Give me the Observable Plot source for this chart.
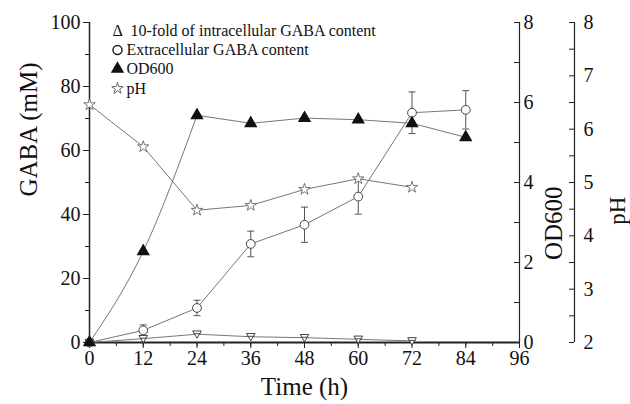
<!DOCTYPE html>
<html>
<head>
<meta charset="utf-8">
<script src="https://cdn.jsdelivr.net/npm/d3@7"></script>
<script src="https://cdn.jsdelivr.net/npm/@observablehq/plot@0.6"></script>
<style>
  html, body { margin: 0; padding: 0; background: #fff; }
  #chart { width: 630px; height: 404px; }
  #chart svg, #chart svg text { font-family: 'Liberation Serif', 'Times New Roman', serif !important; }
</style>
</head>
<body>
<div id="chart"></div>
<script>
// ---- data ----
const hours = [0, 12, 24, 36, 48, 60, 72, 84];
const extGABA = [0, 3.8, 10.8, 30.8, 36.8, 45.6, 71.8, 72.7];
const extErr = [0, 1.7, 2.4, 4.0, 5.5, 5.5, 6.5, 6.0];
const od600 = [0, 2.28, 5.68, 5.48, 5.61, 5.57, 5.48, 5.13];
const intraHours = [0, 12, 24, 36, 48, 60, 72];
const intraGABA10 = [0, 1.2, 2.6, 1.8, 1.5, 1.0, 0.5];
const intraErr = [0, 0.6, 0.8, 0.7, 0.7, 0.6, 0.6];
const pHHours = [0, 12, 24, 36, 48, 60, 72];
const pHValues = [6.46, 5.67, 4.48, 4.57, 4.87, 5.07, 4.91];

const xTicks = [0, 12, 24, 36, 48, 60, 72, 84, 96];
const gabaTicks = [0, 20, 40, 60, 80, 100];
const odTicks = [0, 2, 4, 6, 8];
const pHTicks = [2, 3, 4, 5, 6, 7, 8];
const legendLabels = ["10-fold of intracellular GABA content", "Extracellular GABA content", "OD600", "pH"];

// ---- dual-axis mapping onto the GABA (mM) scale ----
const odToY = v => v * 100 / 8;
const pHToY = v => (v - 2) * 100 / 6;

const ext = hours.map((h, i) => ({h, y: extGABA[i], lo: extGABA[i] - extErr[i], hi: extGABA[i] + extErr[i]}));
const intra = intraHours.map((h, i) => ({h, y: intraGABA10[i], lo: intraGABA10[i] - intraErr[i], hi: intraGABA10[i] + intraErr[i]}));
const od = hours.map((h, i) => ({h, y: odToY(od600[i])}));
const ph = pHHours.map((h, i) => ({h, y: pHToY(pHValues[i])}));

const cap = {draw(ctx, size) { const w = Math.sqrt(size / Math.PI); ctx.moveTo(-w, 0); ctx.lineTo(w, 0); }};
const downTri = {draw(ctx, size) {
  const r = Math.sqrt(size / Math.PI);
  ctx.moveTo(-r, -r * 0.75); ctx.lineTo(r, -r * 0.75); ctx.lineTo(0, r * 0.95); ctx.closePath();
  ctx.moveTo(-r * 0.8, -r * 0.1); ctx.lineTo(r * 0.8, -r * 0.1);
}};

const LINE = "#777";
const AX = "#222";
const FONT = "'Liberation Serif', 'Times New Roman', serif";

const range = d3.range;
const xMinor = range(0, 96.1, 6);
const gabaMinor = range(0, 100.1, 10);
const odMinor = range(0, 8.01, 1).map(odToY);
const pHMinor = range(2, 8.01, 0.5).map(pHToY);

const T = {fontFamily: FONT, fill: "#111"};
const legendMarks = [];
legendLabels.forEach((t, i) => {
  legendMarks.push(Plot.text([t], {...T, frameAnchor: "top-left", dx: i === 0 ? 41 : 37, dy: 8 + i * 19.3, lineAnchor: "middle", textAnchor: "start", fontSize: 16}));
});
legendMarks.push(Plot.text(["Δ"], {...T, frameAnchor: "top-left", dx: 23, dy: 8, lineAnchor: "middle", textAnchor: "start", fontSize: 16}));
legendMarks.push(Plot.dot([0], {frameAnchor: "top-left", dx: 28, dy: 27.5, symbol: "circle", r: 4.5, fill: "white", stroke: "#222"}));
legendMarks.push(Plot.dot([0], {frameAnchor: "top-left", dx: 28, dy: 46.5, symbol: "triangle", r: 4, fill: "#111", stroke: "#111"}));
legendMarks.push(Plot.dot([0], {frameAnchor: "top-left", dx: 28, dy: 66, symbol: "star", r: 3.6, fill: "white", stroke: "#444", strokeWidth: 0.8}));

const chart = Plot.plot({
  width: 630,
  height: 404,
  marginLeft: 89,
  marginRight: 111,
  marginTop: 22,
  marginBottom: 62,
  style: {fontFamily: FONT, fontSize: "20px", color: "#111", background: "white"},
  x: {domain: [0, 96]},
  y: {domain: [0, 100]},
  marks: [
    // left axis
    Plot.axisY(gabaMinor, {anchor: "left", tickSize: 4, tickFormat: () => "", label: null, stroke: AX}),
    Plot.axisY(gabaTicks, {anchor: "left", tickSize: 6, tickPadding: 3, label: null, stroke: AX, fontSize: 20, fontFamily: FONT}),
    Plot.ruleX([0], {stroke: AX, strokeWidth: 1.5}),
    // OD600 axis at x = 96 (ticks inward, labels outward)
    Plot.ruleX([96], {stroke: AX, strokeWidth: 1.2}),
    Plot.axisY(odMinor, {anchor: "left", dx: 430, tickSize: 5, tickFormat: () => "", label: null, stroke: AX}),
    Plot.axisY(odTicks.map(odToY), {anchor: "right", tickSize: 0, tickPadding: 4, tickFormat: d => Math.round(d * 8 / 100), label: null, fontSize: 20, fontFamily: FONT}),
    // pH axis
    Plot.ruleX([96], {dx: 55, stroke: AX, strokeWidth: 1.2}),
    Plot.axisY(pHMinor, {anchor: "left", dx: 485, tickSize: 5, tickFormat: () => "", label: null, stroke: AX}),
    Plot.axisY(pHTicks.map(pHToY), {anchor: "right", dx: 55, tickSize: 0, tickPadding: 9, tickFormat: d => Math.round(d * 6 / 100 + 2), label: null, fontSize: 20, fontFamily: FONT}),
    // bottom axis
    Plot.axisX(xMinor, {anchor: "bottom", tickSize: 4, tickFormat: () => "", label: null, stroke: AX}),
    Plot.axisX(xTicks, {anchor: "bottom", tickSize: 6, tickPadding: 2, label: null, stroke: AX, fontSize: 20, fontFamily: FONT}),
    Plot.ruleY([0], {stroke: AX, strokeWidth: 2}),
    // axis titles
    Plot.text(["Time (h)"], {...T, frameAnchor: "bottom", dy: 44, lineAnchor: "middle", fontSize: 25}),
    Plot.text(["GABA (mM)"], {...T, frameAnchor: "left", dx: -61, dy: 14, rotate: -90, fontSize: 25}),
    Plot.text(["OD600"], {...T, frameAnchor: "right", dx: 34, dy: 4, rotate: -90, fontSize: 25}),
    Plot.text(["pH"], {...T, frameAnchor: "right", dx: 98, dy: 14, rotate: -90, fontSize: 23}),
    // lines
    Plot.line(ph, {x: "h", y: "y", stroke: LINE, strokeWidth: 1}),
    Plot.line(od.slice(0, 3), {x: "h", y: "y", stroke: LINE, strokeWidth: 1, curve: "monotone-x"}),
    Plot.line(od.slice(2), {x: "h", y: "y", stroke: LINE, strokeWidth: 1}),
    Plot.line(ext, {x: "h", y: "y", stroke: LINE, strokeWidth: 1}),
    Plot.line(intra, {x: "h", y: "y", stroke: LINE, strokeWidth: 1}),
    // error bars
    Plot.ruleX(ext.filter(d => d.hi > d.y), {x: "h", y1: "lo", y2: "hi", stroke: "#555", strokeWidth: 1}),
    Plot.dot(ext.filter(d => d.hi > d.y), {x: "h", y: "hi", symbol: cap, r: 3.5, stroke: "#555", strokeWidth: 1}),
    Plot.dot(ext.filter(d => d.hi > d.y), {x: "h", y: "lo", symbol: cap, r: 3.5, stroke: "#555", strokeWidth: 1}),
    Plot.ruleX(intra.filter(d => d.hi > d.y), {x: "h", y1: "lo", y2: "hi", stroke: "#555", strokeWidth: 1}),
    Plot.dot(intra.filter(d => d.hi > d.y), {x: "h", y: "hi", symbol: cap, r: 3.5, stroke: "#555", strokeWidth: 1}),
    // markers
    Plot.dot(ph, {x: "h", y: "y", symbol: "star", r: 3.6, fill: "white", stroke: "#555", strokeWidth: 0.8}),
    Plot.dot(intra, {x: "h", y: "y", symbol: downTri, r: 4.3, fill: "white", stroke: "#444", strokeWidth: 1}),
    Plot.dot(ext, {x: "h", y: "y", symbol: "circle", r: 4.4, fill: "white", stroke: "#444", strokeWidth: 1}),
    Plot.dot(od, {x: "h", y: "y", symbol: "triangle", r: 4, fill: "#111", stroke: "#111"}),
    ...legendMarks
  ]
});
document.getElementById("chart").append(chart);
</script>
</body>
</html>
